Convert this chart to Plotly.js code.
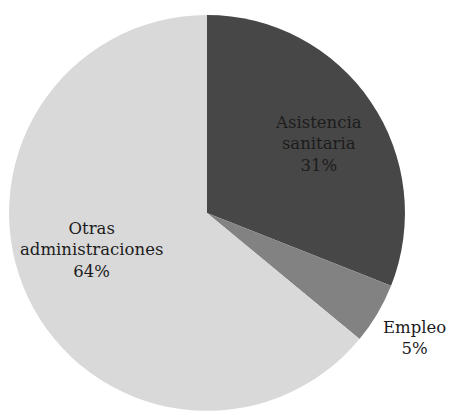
<!DOCTYPE html>
<html><head><meta charset="utf-8">
<script src="https://cdn.plot.ly/plotly-3.0.1.min.js"></script>
<style>html,body{margin:0;padding:0;background:#fff}</style>
</head><body><div id="chart" style="width:450px;height:415px"></div>
<script>
const categories = ["Asistencia<br>sanitaria", "Empleo", "Otras<br>administraciones"];
const values = [31, 5, 64];
const colors = ["#474747", "#828282", "#d9d9d9"];
// label anchor positions (paper fractions) for each category's text
const labelX = [0.707, 0.922, 0.204];
const labelY = [0.653, 0.186, 0.398];

const annotations = categories.map((c, i) => ({
  xref: "paper", yref: "paper",
  x: labelX[i], y: labelY[i],
  xanchor: "center", yanchor: "middle",
  showarrow: false,
  text: c + "<br>" + values[i] + "%",
  align: "center",
  font: {family: "DejaVu Serif", size: 16.5, color: "#1c1c1c"}
}));

Plotly.newPlot("chart", [{
  type: "pie",
  labels: categories,
  values: values,
  sort: false,
  direction: "clockwise",
  rotation: 0,
  marker: {colors: colors, line: {width: 0}},
  textinfo: "none",
  hoverinfo: "none",
  domain: {x: [0.02, 0.9], y: [0.01, 0.964]}
}], {
  width: 450, height: 415,
  margin: {l: 0, r: 0, t: 0, b: 0},
  showlegend: false,
  paper_bgcolor: "#fff",
  annotations: annotations,
  font: {family: "DejaVu Serif", color: "#1c1c1c"}
}, {displayModeBar: false, staticPlot: true});
</script></body></html>
